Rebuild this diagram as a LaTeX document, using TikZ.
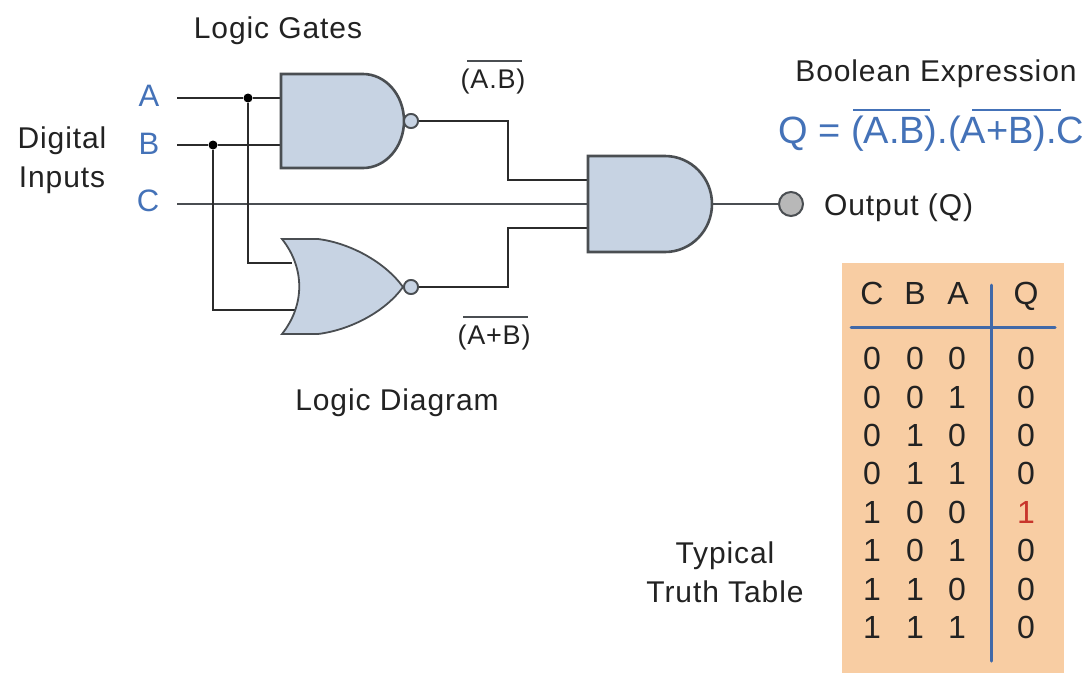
\documentclass[tikz,border=0pt]{standalone}
\usepackage{fontspec}
\setmainfont{Liberation Sans}[LetterSpace=3]
\newfontfamily\plainfont{Liberation Sans}
\definecolor{gatefill}{HTML}{C7D3E3}
\definecolor{gateline}{HTML}{4A4E52}
\definecolor{wirecol}{HTML}{2B2B2B}
\definecolor{bluetxt}{HTML}{4472B8}
\definecolor{tablebg}{HTML}{F8CDA3}
\definecolor{tableline}{HTML}{4169A8}
\definecolor{redone}{HTML}{C8352B}
\definecolor{txtcol}{HTML}{222222}
\newcommand{\fs}[1]{\fontsize{#1}{#1}\selectfont}
\tikzset{
  x=1pt,y=-1pt,
  wire/.style={draw=wirecol,line width=1.8pt,line join=miter},
  thickwire/.style={draw=gateline,line width=2.8pt},
  midwire/.style={draw=gateline,line width=2.4pt},
  gate/.style={draw=gateline,fill=gatefill,line width=2.6pt,line join=miter},
  orgate/.style={draw=gateline,fill=gatefill,line width=1.8pt,line join=miter},
  bubble/.style={circle,draw=gateline,fill=gatefill,line width=1.8pt,minimum size=14pt,inner sep=0pt},
  outpin/.style={circle,draw=gateline,fill=black!28,line width=2pt,minimum size=24pt,inner sep=0pt},
  joint/.style={circle,fill=black,minimum size=9pt,inner sep=0pt},
  lab/.style={inner sep=0pt,text=txtcol,font=\fs{30}},
  inlab/.style={inner sep=0pt,text=bluetxt,font=\fs{31}},
  small/.style={inner sep=0pt,text=txtcol,font=\fs{27}},
  cell/.style={inner sep=0pt,text=txtcol,font=\fs{32},anchor=base,yshift=-11pt},
  bar/.style={draw=gateline,line width=2pt},
  bluebar/.style={draw=bluetxt,line width=2pt},
  tabrule/.style={draw=tableline,line width=3pt,line cap=round},
}
\begin{document}
\begin{tikzpicture}
\useasboundingbox[fill=white] (0,0) rectangle (1090,673);
% coordinates
\coordinate (astart) at (177,98);
\coordinate (bstart) at (177,145);
\coordinate (cstart) at (177,204);
\coordinate (ncin1) at (282,98);
\coordinate (ncin2) at (282,145);
\coordinate (orin1) at (292,263);
\coordinate (orin2) at (295,310);
\coordinate (andin1) at (589,180);
\coordinate (andin2) at (589,204);
\coordinate (andin3) at (589,228);
\coordinate (andout) at (712,204);
% wires
\node[joint] (ja) at (248,98) {};
\node[joint] (jb) at (213,145) {};
\node[bubble] (nb) at (411,121) {};
\node[bubble] (ob) at (411,287) {};
\node[outpin] (out) at (791,204) {};
\draw[wire] (astart) -- (ja) -- (ncin1);
\draw[wire] (bstart) -- (jb) -- (ncin2);
\draw[thickwire] (cstart) -- (andin2);
\draw[wire] (ja) |- (orin1);
\draw[wire] (jb) |- (orin2);
\draw[wire] (nb) -| (508,180) -- (andin1);
\draw[wire] (ob) -| (508,228) -- (andin3);
\draw[midwire] (andout) -- (out);
% gates
\draw[gate] (281,74) -- (363,74) arc[start angle=-90,end angle=90,x radius=41,y radius=47] -- (281,168) -- cycle;
\draw[orgate] (282,239) -- (318,239) .. controls (350,243) and (385,262) .. (403,287)
  .. controls (385,312) and (350,330) .. (318,334) -- (282,334)
  .. controls (305,305) and (305,268) .. (282,239) -- cycle;
\draw[gate] (588,156) -- (665,156) arc[start angle=-90,end angle=90,x radius=47,y radius=48] -- (588,252) -- cycle;
\node[bubble] at (nb) {};
\node[bubble] at (ob) {};
% texts
\node[lab] (t1) at (278,31) {Logic Gates};
\node[lab] (t2) at (397,403) {Logic Diagram};
\node[lab] (t3) at (936,74) {Boolean Expression};
\node[lab,anchor=west] (t4) at (824,208) {Output (Q)};
\node[lab] (t5) at (62,141) {Digital};
\node[lab] (t6) at (62,180) {Inputs};
\node[lab] (t7) at (725,556) {Typical};
\node[lab] (t8) at (725,592) {Truth Table};
\node[inlab] (la) at (149,96) {A};
\node[inlab] (lb) at (149,144) {B};
\node[inlab] (lc) at (148,201) {C};
\node[small] (ab) at (493,82) {(A.B)};
\node[small] (aob) at (494,338) {(A+B)};
\draw[bar] (467,61) -- (522,61);
\draw[bar] (463,317) -- (528,317);
\node[inner sep=0pt,text=bluetxt,font=\plainfont\fs{38},anchor=west] (expr) at (778,134) {Q = (A.B).(A+B).C};
\draw[bluebar] (853,110) -- (930,110);
\draw[bluebar] (972,110) -- (1061,110);
% table
\fill[tablebg] (842,263) rectangle (1064,673);
\draw[tabrule] (851,327) -- (1055,327);
\draw[tabrule] (991,285) -- (991,661);
\foreach \n/\x/\s in {c/872/C,b/915/B,a/958/A,q/1026/Q}
  \node[cell] (h\n) at (\x,293) {\s};
\foreach \r/\y/\c/\b/\a/\q in {1/358/0/0/0/0,2/397/0/0/1/0,3/435/0/1/0/0,4/473/0/1/1/0,5/589/1/1/0/0,6/550/1/0/1/0,7/627/1/1/1/0}{
  \node[cell] (c\r) at (872,\y) {\c};
  \node[cell] (b\r) at (915,\y) {\b};
  \node[cell] (a\r) at (957,\y) {\a};
  \node[cell] (q\r) at (1026,\y) {\q};
}
\node[cell] (c8) at (872,512) {1};
\node[cell] (b8) at (915,512) {0};
\node[cell] (a8) at (957,512) {0};
\node[cell,text=redone] (q8) at (1026,512) {1};
\end{tikzpicture}
\end{document}
